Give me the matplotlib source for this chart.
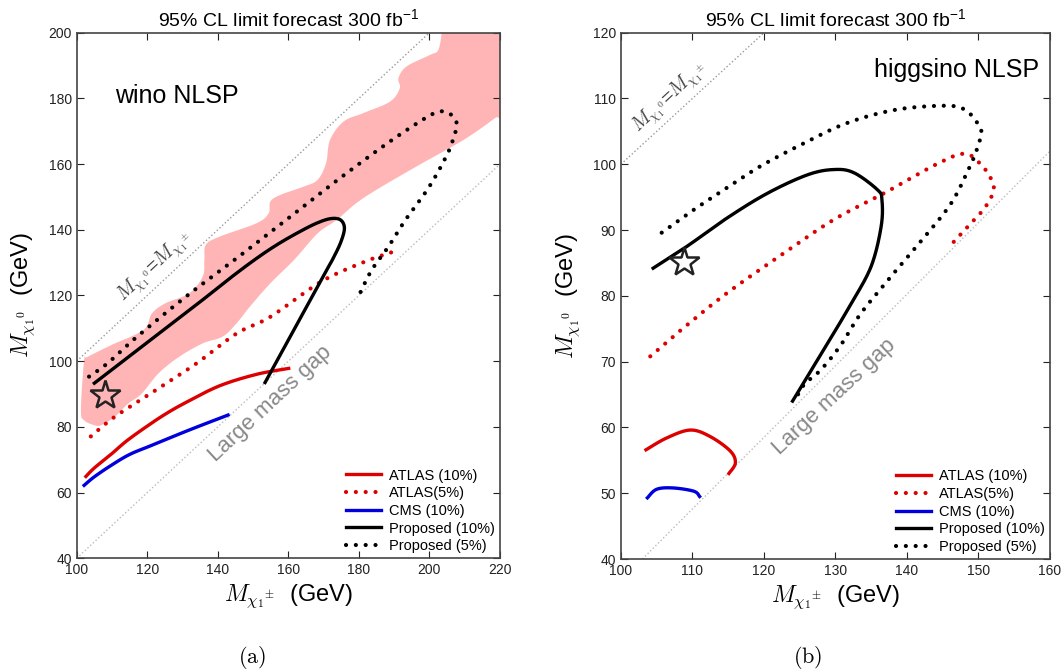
import matplotlib
matplotlib.use("Agg")
import matplotlib.pyplot as plt
import numpy as np

plt.rcParams["font.family"] = "Liberation Sans"
plt.rcParams["mathtext.fontset"] = "cm"
plt.rcParams["xtick.direction"] = "in"
plt.rcParams["ytick.direction"] = "in"
plt.rcParams["xtick.top"] = True
plt.rcParams["ytick.right"] = True

# ---- panel (a): wino NLSP ----
band_x = [203.5, 220, 220, 218.6, 209.6, 195.4, 181.2, 173.7, 168.3, 161.6, 154.9, 149.1,
          145.3, 141.4, 135.7, 129, 123.2, 118.4, 114.6, 110.7, 106.9, 105, 102.1, 101.2,
          102.1, 103.1, 109.8, 118.9, 121.3, 125.1, 131.8, 135.7, 136.2, 136.6, 140.5, 151,
          154.4, 154.9, 157.7, 164.5, 168.3, 170.7, 171.8, 175.6, 181.2, 188.8, 191.6, 191.2,
          193.5, 200.1, 202.5]
band_y = [200, 200, 175.5, 174, 167.3, 158.7, 149.6, 143, 138.9, 130.8, 123.7, 116.6,
          111.5, 107.5, 105.4, 101.3, 96.3, 90.1, 87.1, 83, 80.5, 80.5, 82, 85.1,
          100.2, 101.3, 104.9, 109.5, 114.5, 117.6, 120.6, 125.7, 130.8, 135.4, 137.9, 142,
          145, 148.6, 150.6, 153.2, 155.2, 160.3, 167.3, 172.9, 175.5, 179, 183.1, 186.1,
          189.7, 193.2, 194.7]

a_atlas10_x = [102.6, 105, 109.8, 114, 119.4, 125, 130.9, 140.5, 151, 160.1]
a_atlas10_y = [64.9, 67.5, 71.7, 75.6, 79.8, 83.8, 87.4, 92.5, 96.0, 97.8]
a_atlas5_x = [104, 110.7, 122.3, 133.8, 145.3, 154.9, 169.3, 181.7, 189.7]
a_atlas5_y = [77.1, 83, 91.1, 99.2, 108.4, 113.5, 124.2, 130.3, 133.3]
a_cms10_x = [102.1, 105, 109.8, 115, 121.3, 131.8, 142.9]
a_cms10_y = [62.2, 64.8, 68.3, 71.6, 74.4, 79.0, 83.6]
a_prop10_x = [105, 118.7, 132.9, 143.5, 151, 157, 163, 168, 172, 174.8, 175.9,
              174.9, 172.8, 170.9, 166.1, 159.5, 153.4]
a_prop10_y = [93.3, 104.6, 116.3, 125.3, 131.3, 135.6, 139.3, 142, 143.4, 143, 140.5,
              136.3, 131.5, 127.8, 118.4, 105.5, 93.5]
a_prop5_x = [103.5, 108.8, 116.5, 130.9, 145.3, 160.6, 174, 187.5, 196.6, 201.4, 204.3,
             206.7, 207.8, 207.1, 205.2, 200, 193.2, 188.4, 183.6, 180.1]
a_prop5_y = [95.3, 99.4, 106.9, 119.6, 131.3, 144, 155.2, 165.9, 172.5, 175.5, 176,
             174.5, 172, 168.9, 163.3, 153.2, 143, 134.9, 127.7, 120.2]
a_star = (107.9, 89.6)

# ---- panel (b): higgsino NLSP ----
b_atlas10_x = [103.5, 106.4, 109.7, 112.5, 115.3, 116, 115.1]
b_atlas10_y = [56.6, 58.4, 59.6, 58.6, 56.4, 54.6, 53.0]
b_atlas5_x = [104.1, 108.5, 114.8, 122.8, 129.8, 136.8, 144.3, 148.1, 150.4, 151.8,
              152.1, 150.9, 149, 146.2]
b_atlas5_y = [70.8, 74.9, 80.4, 86.5, 91.6, 95.6, 100.1, 101.6, 99.9, 97.7,
              95.9, 93.4, 91.1, 87.8]
b_cms10_x = [103.7, 105, 107.3, 110.2, 111.0]
b_cms10_y = [49.3, 50.6, 50.8, 50.3, 49.5]
b_prop10_x = [104.5, 109.2, 114.8, 120.5, 126.1, 129.8, 132.6, 135.9, 136.5, 136.4,
              135, 132.2, 129.4, 126.5, 124]
b_prop10_y = [84.2, 87.5, 91.8, 95.6, 98.4, 99.2, 98.7, 96.1, 94.6, 90.6,
              84.5, 78.8, 73.7, 68.5, 64]
b_prop5_x = [105.7, 110.2, 114.8, 119.5, 125.6, 131.7, 138.5, 145.3, 148.1, 149.9, 150.4,
             149.7, 148.6, 146.2, 142.5, 138.2, 133.6, 130.8, 128, 125.6, 124.4]
b_prop5_y = [89.6, 93.1, 96.4, 99.7, 103.2, 106.3, 108.3, 108.9, 108.3, 106.2, 104.8,
             102, 99.2, 94.1, 89, 83.5, 77.4, 72.6, 68.8, 66.5, 64.2]
b_star = (108.8, 85.2)

title = r"95% CL limit forecast 300 fb$^{\mathregular{-1}}$"
xlabel = r"$M_{\chi_1{}^{\pm}}$  (GeV)"
ylabel = r"$M_{\chi_1{}^{0}}$  (GeV)"
diag_label = r"$M_{\chi_1{}^0}$=$M_{\chi_1{}^{\pm}}$"
labels = ["ATLAS (10%)", "ATLAS(5%)", "CMS (10%)", "Proposed (10%)", "Proposed (5%)"]

RED = "#dd0000"
BLUE = "#0000dd"
dot = dict(linestyle=(0, (0.01, 2.35)), dash_capstyle="round", lw=3.0)


def smooth(x, y):
    # Catmull-Rom through the picked points
    p = np.column_stack([x, y]).astype(float)
    p = np.vstack([p[0], p, p[-1]])
    out = []
    for i in range(1, len(p) - 2):
        p0, p1, p2, p3 = p[i - 1], p[i], p[i + 1], p[i + 2]
        t = np.linspace(0, 1, 20, endpoint=False)[:, None]
        out.append(0.5 * ((2 * p1) + (-p0 + p2) * t + (2 * p0 - 5 * p1 + 4 * p2 - p3) * t ** 2
                          + (-p0 + 3 * p1 - 3 * p2 + p3) * t ** 3))
    out.append(p[-2][None, :])
    out = np.vstack(out)
    return out[:, 0], out[:, 1]


fig = plt.figure(figsize=(10.64, 6.71), dpi=100)
ax1 = fig.add_axes([0.0721, 0.1680, 0.3978, 0.7833])
ax2 = fig.add_axes([0.5836, 0.1669, 0.4032, 0.7844])

# panel (a)
ax1.fill(*smooth(band_x + band_x[:1], band_y + band_y[:1]), color="#ffb5b5", lw=0, zorder=1)
ax1.plot([100, 200], [100, 200], ls=":", color="#999999", lw=1)
ax1.plot([100, 220], [40, 160], ls=":", color="#bbbbbb", lw=1)
ax1.plot(*smooth(a_atlas10_x, a_atlas10_y), color=RED, lw=2.4, label=labels[0])
ax1.plot(*smooth(a_atlas5_x, a_atlas5_y), color=RED, label=labels[1], **dot)
ax1.plot(*smooth(a_cms10_x, a_cms10_y), color=BLUE, lw=2.4, label=labels[2])
ax1.plot(*smooth(a_prop10_x, a_prop10_y), color="k", lw=2.4, label=labels[3])
ax1.plot(*smooth(a_prop5_x, a_prop5_y), color="k", label=labels[4], **dot)
ax1.plot(*a_star, marker="*", ms=22, mfc="none", mec="#222222", mew=1.8)
ax1.set_xlim(100, 220)
ax1.set_ylim(40, 200)
ax1.text(111, 180.6, "wino NLSP", fontsize=18, va="center")
ax1.text(122.3, 128.8, diag_label, fontsize=14, color="#444444",
         rotation=43, ha="center", va="center")
ax1.text(155, 87, "Large mass gap", fontsize=16, color="#888888",
         rotation=43, ha="center", va="center")

# panel (b)
ax2.plot([100, 120], [100, 120], ls=":", color="#999999", lw=1)
ax2.plot([103, 160], [40, 102], ls=":", color="#bbbbbb", lw=1)
ax2.plot(*smooth(b_atlas10_x, b_atlas10_y), color=RED, lw=2.4, label=labels[0])
ax2.plot(*smooth(b_atlas5_x, b_atlas5_y), color=RED, label=labels[1], **dot)
ax2.plot(*smooth(b_cms10_x, b_cms10_y), color=BLUE, lw=2.4, label=labels[2])
ax2.plot(*smooth(b_prop10_x, b_prop10_y), color="k", lw=2.4, label=labels[3])
ax2.plot(*smooth(b_prop5_x, b_prop5_y), color="k", label=labels[4], **dot)
ax2.plot(*b_star, marker="*", ms=22, mfc="none", mec="#222222", mew=1.8)
ax2.set_xlim(100, 160)
ax2.set_ylim(40, 120)
ax2.text(158.5, 114.4, "higgsino NLSP", fontsize=18, va="center", ha="right")
ax2.text(106.9, 110.1, diag_label, fontsize=14, color="#444444",
         rotation=43, ha="center", va="center")
ax2.text(129.8, 64.7, "Large mass gap", fontsize=16, color="#888888",
         rotation=43, ha="center", va="center")

for ax in (ax1, ax2):
    ax.set_title(title, fontsize=14, pad=4)
    ax.set_xlabel(xlabel, fontsize=17, labelpad=4)
    ax.set_ylabel(ylabel, fontsize=17, labelpad=8)
    ax.tick_params(labelsize=10, length=5, width=0.8, colors="#222222")
    for s in ax.spines.values():
        s.set_color("#444444")
        s.set_linewidth(1.2)
    ax.legend(loc="lower right", frameon=False, fontsize=10.5, handlelength=2.4,
              labelspacing=0.25, borderaxespad=0.1, borderpad=0.25, handletextpad=0.55)

fig.text(0.237, 0.02, r"$\mathrm{(a)}$", fontsize=16, ha="center", va="center")
fig.text(0.759, 0.02, r"$\mathrm{(b)}$", fontsize=16, ha="center", va="center")

fig.savefig("out.png", dpi=100)
